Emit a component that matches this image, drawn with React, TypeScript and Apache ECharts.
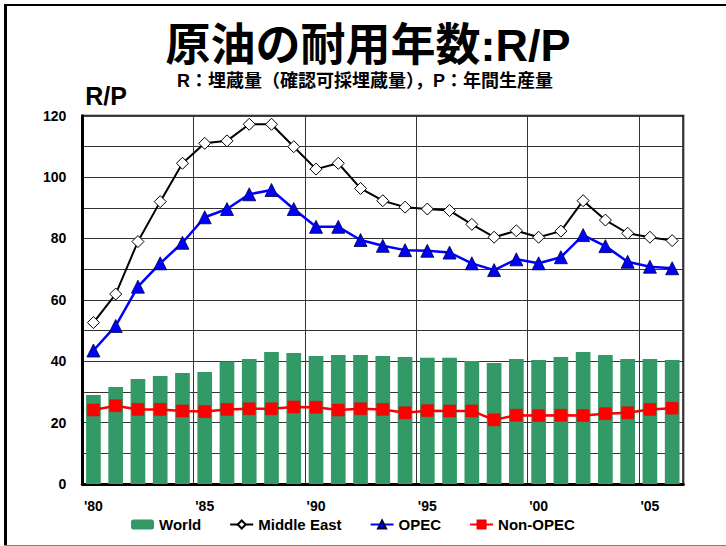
import React, { useEffect, useRef } from "react";
import * as echarts from "echarts";

const years = [
  "1980", "1981", "1982", "1983", "1984", "1985", "1986", "1987", "1988", "1989",
  "1990", "1991", "1992", "1993", "1994", "1995", "1996", "1997", "1998", "1999",
  "2000", "2001", "2002", "2003", "2004", "2005", "2006",
];
const xTickLabels = ["'80", "'85", "'90", "'95", "'00", "'05"];

const world = [
  29.0, 31.6, 34.2, 35.2, 36.2, 36.5, 39.9, 40.7, 43.0, 42.7,
  41.7, 42.0, 42.0, 41.7, 41.4, 41.1, 41.1, 40.1, 39.4, 40.7,
  40.4, 41.4, 43.0, 42.0, 40.7, 40.7, 40.4,
];
const middleEast = [
  52.6, 61.9, 79.0, 92.0, 104.5, 111.0, 111.8, 117.2, 117.2, 109.9,
  102.6, 104.5, 96.3, 92.3, 90.2, 89.6, 89.1, 84.6, 80.4, 82.5,
  80.4, 82.4, 92.3, 86.0, 81.7, 80.4, 79.3,
];
const opec = [
  43.5, 51.5, 64.3, 71.9, 78.6, 86.9, 89.6, 94.4, 95.8, 89.6,
  83.8, 83.8, 79.5, 77.6, 76.2, 76.0, 75.4, 71.9, 69.7, 73.2,
  71.9, 73.9, 81.1, 77.5, 72.4, 70.8, 70.3,
];
const nonOpec = [
  24.1, 25.5, 24.3, 24.3, 23.8, 23.6, 24.3, 24.5, 24.5, 25.1,
  25.0, 24.1, 24.5, 24.3, 23.2, 23.9, 23.8, 23.8, 20.9, 22.4,
  22.3, 22.4, 22.3, 22.9, 23.2, 24.3, 24.7,
];

const titleText = "原油の耐用年数:R/P";
const subtitleText = "R：埋蔵量（確認可採埋蔵量），P：年間生産量";
const yAxisTitle = "R/P";
const seriesNames = ["World", "Middle East", "OPEC", "Non-OPEC"];

const FONT = "'Liberation Sans', Arial, 'Noto Sans CJK JP', sans-serif";

export default function App() {
  const ref = useRef<HTMLDivElement>(null);

  useEffect(() => {
    if (!ref.current) return;
    const chart = echarts.init(ref.current, null, { renderer: "svg" });
    chart.setOption({
      animation: false,
      backgroundColor: "#ffffff",
      textStyle: { fontFamily: FONT },
      graphic: [
        { type: "line", shape: { x1: 4, y1: 5, x2: 726, y2: 5 }, style: { stroke: "#000", lineWidth: 2 } },
        { type: "line", shape: { x1: 5.5, y1: 4, x2: 5.5, y2: 546 }, style: { stroke: "#000", lineWidth: 3 } },
        { type: "line", shape: { x1: 4, y1: 545.5, x2: 726, y2: 545.5 }, style: { stroke: "#808080", lineWidth: 1 } },
        {
          type: "text",
          x: 368,
          y: 45,
          style: {
            text: titleText,
            font: `bold 45px ${FONT}`,
            fill: "#000",
            textAlign: "center",
            textVerticalAlign: "middle",
          },
        },
        {
          type: "text",
          x: 365,
          y: 81,
          style: {
            text: subtitleText,
            font: `bold 18px ${FONT}`,
            fill: "#000",
            textAlign: "center",
            textVerticalAlign: "middle",
          },
        },
        {
          type: "text",
          x: 106,
          y: 96,
          style: {
            text: yAxisTitle,
            font: `bold 25px ${FONT}`,
            fill: "#000",
            textAlign: "center",
            textVerticalAlign: "middle",
          },
        },
      ],
      legend: {
        data: seriesNames,
        left: 131,
        top: 517,
        padding: 0,
        itemWidth: 23,
        itemHeight: 10,
        itemGap: 28,
        textStyle: { fontFamily: FONT, fontWeight: "bold", fontSize: 15, lineHeight: 14, color: "#000" },
      },
      grid: {
        left: 82.3,
        right: 42.7,
        top: 115.7,
        bottom: 62,
        show: true,
        borderColor: "#000",
        borderWidth: 2,
        backgroundColor: "transparent",
      },
      xAxis: {
        type: "category",
        data: years,
        boundaryGap: true,
        axisLine: { show: true, lineStyle: { color: "#000", width: 3 } },
        axisTick: { show: false },
        axisLabel: {
          interval: 4,
          margin: 16,
          fontFamily: FONT,
          fontWeight: "bold",
          fontSize: 14,
          lineHeight: 12,
          color: "#000",
          formatter: (_v: string, idx: number) => xTickLabels[Math.round(idx / 5)] ?? "",
        },
        splitLine: { show: true, interval: 4, lineStyle: { color: "#333", width: 1 } },
      },
      yAxis: {
        type: "value",
        min: 0,
        max: 120,
        interval: 10,
        axisLine: { show: true, lineStyle: { color: "#000", width: 3 } },
        axisTick: { show: false },
        axisLabel: {
          margin: 16,
          fontFamily: FONT,
          fontWeight: "bold",
          fontSize: 14,
          color: "#000",
          formatter: (v: number) => (v % 20 === 0 ? String(v) : ""),
        },
        splitLine: { show: true, lineStyle: { color: "#333", width: 1 } },
      },
      series: [
        {
          name: seriesNames[0],
          type: "bar",
          data: world,
          barWidth: "66%",
          itemStyle: { color: "#339966" },
        },
        {
          name: seriesNames[1],
          type: "line",
          data: middleEast,
          symbol: "diamond",
          symbolSize: 12,
          lineStyle: { color: "#000", width: 2 },
          itemStyle: { color: "#fff", borderColor: "#000", borderWidth: 1 },
        },
        {
          name: seriesNames[2],
          type: "line",
          data: opec,
          symbol: "triangle",
          symbolSize: 13,
          lineStyle: { color: "#0000ff", width: 2.5 },
          itemStyle: { color: "#0000ff", borderColor: "#000033", borderWidth: 0.8 },
        },
        {
          name: seriesNames[3],
          type: "line",
          data: nonOpec,
          symbol: "rect",
          symbolSize: 12,
          lineStyle: { color: "#ff0000", width: 2.5 },
          itemStyle: { color: "#ff0000", borderColor: "#ee0000", borderWidth: 0.5 },
        },
      ],
    });
    return () => chart.dispose();
  }, []);

  return (
    <div
      ref={ref}
      style={{ position: "fixed", left: 0, top: 0, width: 726, height: 546, background: "#fff" }}
    />
  );
}
